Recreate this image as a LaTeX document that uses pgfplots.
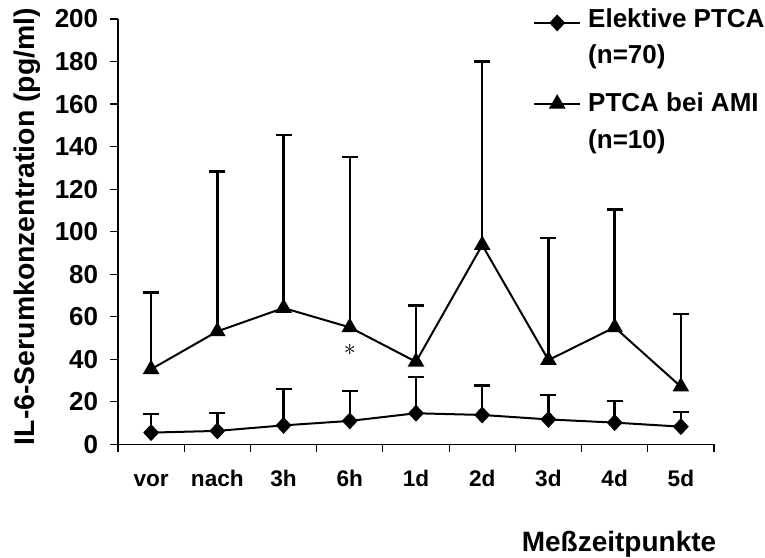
\documentclass[border=0pt]{standalone}
\usepackage{pgfplots}
\usepackage{pgfplotstable}
\pgfplotsset{compat=1.18}
\usepackage{fontspec}
\setmainfont{Liberation Sans}

% IL-6 serum concentration, mean and upper SD per time point
\pgfplotstableread{
x  mean  err
0  5.5   8.7
1  6.3   8.4
2  8.9   17.0
3  11.0  14.1
4  14.6  17.0
5  13.8  13.9
6  11.7  11.5
7  10.2  10.3
8  8.3   6.9
}\elektiv

\pgfplotstableread{
x  mean  err
0  35.3  36.0
1  53.1  75.2
2  64.1  81.3
3  55.0  80.2
4  38.8  26.4
5  93.7  86.3
6  39.6  57.3
7  55.0  55.5
8  27.1  34.2
}\ami

\begin{document}
\begin{tikzpicture}
\begin{axis}[
  scale only axis, width=298pt, height=212.65pt,
  at={(0pt,0pt)}, anchor=south west,
  xmin=-0.5, xmax=8.5, ymin=0, ymax=200,
  axis lines*=left,
  axis line style={black, line width=0.6pt},
  xtick={0,...,8},
  xticklabels={vor,nach,3h,6h,1d,2d,3d,4d,5d},
  minor xtick={-0.5,0.5,...,8.5},
  major x tick style={draw=none},
  ytick={0,20,...,200},
  tick align=outside,
  major tick length=4pt, minor tick length=4pt,
  tick style={black, line width=0.6pt},
  /pgf/number format/assume math mode=true,
  yticklabel style={font=\bfseries\fontsize{13}{15}\selectfont, xshift=-2.4pt},
  xticklabel style={font=\bfseries\fontsize{11.3}{13}\selectfont, anchor=base, yshift=-17.2pt},
  ylabel={IL-6-Serumkonzentration (pg/ml)},
  ylabel style={at={(axis description cs:-0.1517,0.512)}, anchor=center,
    font=\bfseries\fontsize{14.2}{16}\selectfont},
  xlabel={Meßzeitpunkte},
  xlabel style={at={(axis description cs:0.8406,0)}, anchor=base, yshift=-53.7pt,
    font=\bfseries\fontsize{14}{16}\selectfont},
  legend cell align=left,
  legend style={at={(axis description cs:0.696,1.0289)}, anchor=north west,
    draw=none, fill=none, inner sep=0pt,
    font=\bfseries\fontsize{13}{15}\selectfont,
    row sep=7.2pt, column sep=3.5pt,
    nodes={inner sep=0pt, text height=10pt, text depth=3pt}},
  legend image code/.code={%
    \draw[mark repeat=2, mark phase=2, yshift=-1.4pt, #1]
      plot coordinates {(0pt,0pt) (11.5pt,0pt) (23pt,0pt)};},
]
\addplot[black, line width=1pt, mark=diamond*, mark size=3.5pt,
  mark options={solid, xscale=1.25},
  error bars/.cd, y dir=plus, y explicit,
  error bar style={line width=1.2pt},
  error mark options={rotate=90, line width=1.2pt, mark size=4pt}]
  table[x=x, y=mean, y error=err] {\elektiv};
\addlegendentry{Elektive PTCA}
\addlegendimage{empty legend}
\addlegendentry{\raisebox{2pt}{(n=70)}}

\addplot[black, line width=1pt, mark=triangle*, mark size=3.8pt,
  mark options={solid},
  error bars/.cd, y dir=plus, y explicit,
  error bar style={line width=1.2pt},
  error mark options={rotate=90, line width=1.2pt, mark size=4pt}]
  table[x=x, y=mean, y error=err] {\ami};
\addlegendentry{\raisebox{-1.75pt}{PTCA bei AMI}}
\addlegendimage{empty legend}
\addlegendentry{(n=10)}

% significance marker below the 6h value
\node[font=\fontsize{13}{13}\selectfont] at (axis cs:3,44.3) {$\ast$};
\end{axis}
\pgfresetboundingbox
\path[use as bounding box] (-59pt,-56.35pt) rectangle (323.5pt,222.15pt);
\end{tikzpicture}
\end{document}
